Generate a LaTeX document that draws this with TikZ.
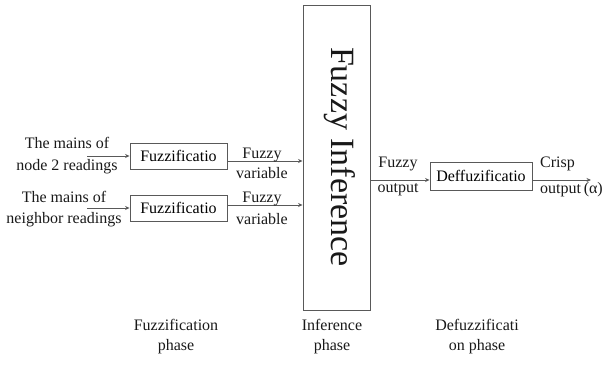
\documentclass[tikz,border=0pt]{standalone}
\usepackage{fontspec}
\setmainfont{Liberation Serif}
\usetikzlibrary{arrows.meta}
\begin{document}
\begin{tikzpicture}[x=1pt,y=-1pt,
  line/.style={draw=black!65, line width=0.9pt},
  arr/.style={line, -{Stealth[length=4.5pt,width=4pt]}},
  box/.style={line, rectangle, inner sep=0pt, font=\fontsize{16}{20}\selectfont},
  lbl/.style={inner sep=0pt, align=center, text=black!90, font=\fontsize{16}{#1}\selectfont},
  lbl/.default=21]
\useasboundingbox (0,0) rectangle (606,365);
% boxes
\node[box, minimum width=67pt, minimum height=305pt] (inf) at (336.5,157.5) {};
\node[rotate=-90, inner sep=0pt, text=black!90, font=\fontsize{34}{40}\selectfont] (inftext) at (340,157) {Fuzzy Inference};
\node[box, minimum width=97pt, minimum height=26pt] (fz1) at (178.5,156) {Fuzzificatio};
\node[box, minimum width=97pt, minimum height=26pt] (fz2) at (178.5,208) {Fuzzificatio};
\node[box, minimum width=102pt, minimum height=28pt] (dz) at (481,176) {Deffuzificatio};
% input labels
\node[lbl=22] (in1l) at (67,156) {The mains of\\node 2 readings};
\node[lbl=21] (in2l) at (64,209.5) {The mains of\\neighbor readings};
% coordinates
\coordinate (in1) at (87,156);
\coordinate (in2) at (87,208);
\coordinate (o1) at (227,161);
\coordinate (o2) at (227,205);
\coordinate (fo) at (370,180);
\coordinate (co) at (532,180);
\coordinate (cend) at (591,180);
% connectors
\draw[arr] (in1) -- (fz1.west);
\draw[arr] (in2) -- (fz2.west);
\draw[arr] (o1) -- (inf.west |- o1);
\draw[arr] (o2) -- (inf.west |- o2);
\draw[arr] (fo) -- (dz.west |- fo);
\draw[arr] (co) -- (cend);
% edge labels
\node[lbl=20] (fv1) at (262,163) {Fuzzy\\variable};
\node[lbl=22] (fv2) at (262,208) {Fuzzy\\variable};
\node[lbl=25] (fol) at (398,176) {Fuzzy\\output};
\node[lbl=26, align=left, anchor=west] (crl) at (540,177) {Crisp\\output\,(α)};
% phase labels
\node[lbl=20] (p1) at (176,337) {Fuzzification\\phase};
\node[lbl=20] (p2) at (332,337) {Inference\\phase};
\node[lbl=20] (p3) at (477,337) {Defuzzificati\\on phase};
\end{tikzpicture}
\end{document}
